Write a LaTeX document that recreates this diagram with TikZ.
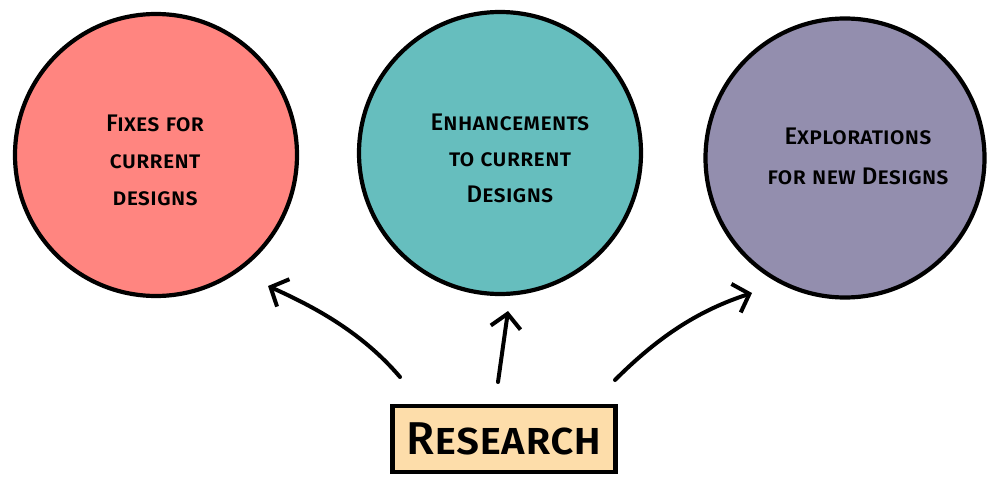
\documentclass[tikz,border=0pt]{standalone}
\usepackage{fontspec}
\setmainfont{Fira Sans}[UprightFont=* Medium]
\usetikzlibrary{arrows.meta}
\definecolor{cred}{RGB}{255,133,128}
\definecolor{cteal}{RGB}{102,190,190}
\definecolor{cpurple}{RGB}{147,142,174}
\definecolor{cbox}{RGB}{253,221,170}
\tikzset{
  bubble/.style={circle, draw=black, line width=4.2pt, minimum size=282pt, inner sep=0pt},
  btext/.style={align=center, font=\fontsize{24}{37}\selectfont\scshape},
  resbox/.style={draw=black, line width=4.2pt, fill=cbox, minimum width=223pt, minimum height=66pt, inner sep=0pt, font=\fontsize{46}{50}\selectfont\scshape},
  arr/.style={line width=4pt, line cap=round, -{Straight Barb[length=14pt,width=30pt,line width=4pt]}}
}
\begin{document}
\begin{tikzpicture}[x=1pt,y=-1pt]
\useasboundingbox (0,0) rectangle (1000,484);
\fill[white] (0,0) rectangle (1000,484);
\node[bubble, fill=cred] (fix) at (156,155) {};
\node[btext] (fixt) at (155,160) {Fixes for\\current\\designs};
\node[bubble, fill=cteal] (enh) at (500,153) {};
\node[btext, font=\fontsize{24}{36}\selectfont\scshape] (enht) at (510,158) {Enhancements\\to current\\Designs};
\node[bubble, fill=cpurple, minimum size=279pt] (exp) at (845,158) {};
\node[btext, font=\fontsize{24}{40}\selectfont\scshape] (expt) at (858,156) {Explorations\\for new Designs};
\node[resbox] (res) at (504,439) {Research};
\coordinate (t1) at (400,377);
\coordinate (h1) at (268,286);
\coordinate (t2) at (498,382);
\coordinate (h2) at (508,311);
\coordinate (t3) at (615,380);
\coordinate (h3) at (752,293);
\draw[arr] (t1) .. controls (360,330) and (310,305) .. (h1);
\draw[arr] (t2) -- (h2);
\draw[arr] (t3) .. controls (660,335) and (700,310) .. (h3);
\end{tikzpicture}
\end{document}
